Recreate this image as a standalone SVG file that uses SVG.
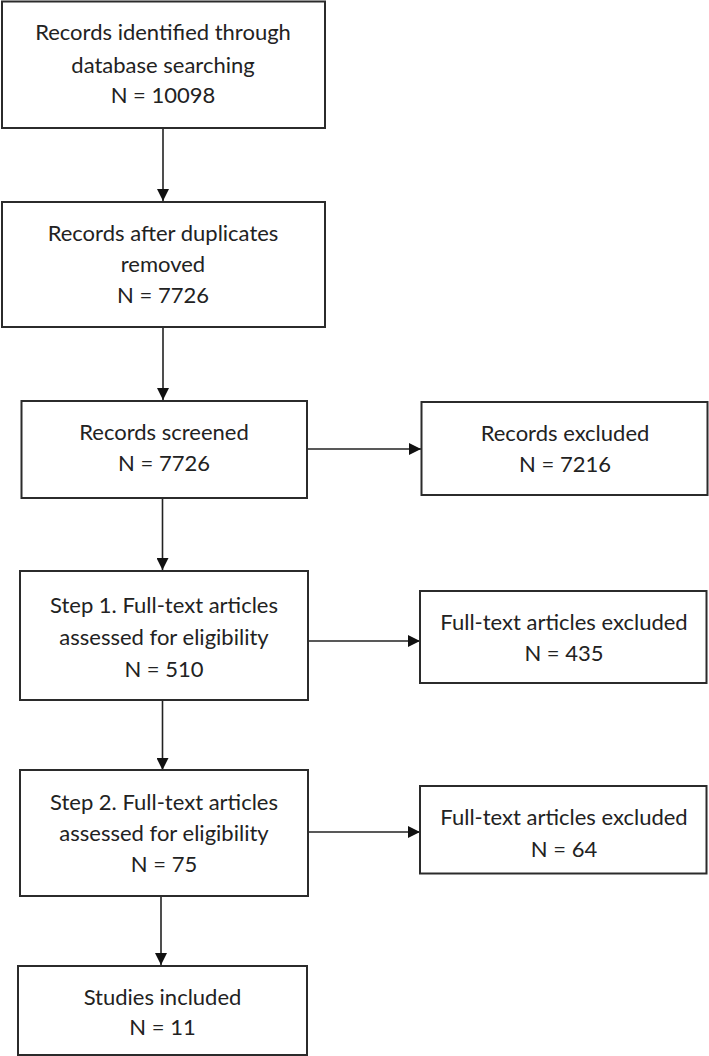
<svg xmlns="http://www.w3.org/2000/svg" width="709" height="1056" viewBox="0 0 709 1056">
<style>
.box{fill:#fff;stroke:#2b2b2b;stroke-width:2}
.t{font-family:Lato,"Liberation Sans",sans-serif;font-size:22px;fill:#222;text-anchor:middle}
.c{stroke:#222;stroke-width:1.6;fill:none;marker-end:url(#ah)}
</style>
<defs>
<marker id="ah" markerUnits="userSpaceOnUse" markerWidth="12" markerHeight="12" refX="12" refY="6" orient="auto">
<path d="M0,0 L12,6 L0,12 Z" fill="#111"/>
</marker>
</defs>
<rect width="709" height="1056" fill="#fff"/>
<g id="connectors">
<line class="c" x1="163" y1="128" x2="163" y2="201"/>
<line class="c" x1="163" y1="327" x2="163" y2="400"/>
<line class="c" x1="162.5" y1="498" x2="162.5" y2="570"/>
<line class="c" x1="307" y1="449" x2="421" y2="449"/>
<line class="c" x1="162.5" y1="700" x2="162.5" y2="770"/>
<line class="c" x1="308" y1="641" x2="420" y2="641"/>
<line class="c" x1="161" y1="896" x2="161" y2="965"/>
<line class="c" x1="308" y1="832" x2="420" y2="832"/>
</g>
<g id="n1">
<rect class="box" x="2" y="1.5" width="323" height="126.5"/>
<text class="t" x="163" y="39.5">Records identified through</text>
<text class="t" x="163" y="72.5">database searching</text>
<text class="t" x="163" y="103">N = 10098</text>
</g>
<g id="n2">
<rect class="box" x="2" y="202" width="323" height="125"/>
<text class="t" x="163" y="241">Records after duplicates</text>
<text class="t" x="163" y="272">removed</text>
<text class="t" x="163" y="303">N = 7726</text>
</g>
<g id="n3">
<rect class="box" x="21.5" y="401" width="285.5" height="97"/>
<text class="t" x="164" y="440">Records screened</text>
<text class="t" x="164" y="471">N = 7726</text>
</g>
<g id="n4">
<rect class="box" x="421.5" y="402" width="286" height="93"/>
<text class="t" x="565" y="440.5">Records excluded</text>
<text class="t" x="565" y="471.5">N = 7216</text>
</g>
<g id="n5">
<rect class="box" x="20" y="571" width="288" height="129"/>
<text class="t" x="164" y="613">Step 1. Full-text articles</text>
<text class="t" x="164" y="645">assessed for eligibility</text>
<text class="t" x="164" y="677">N = 510</text>
</g>
<g id="n6">
<rect class="box" x="420" y="591" width="286.5" height="92"/>
<text class="t" x="564" y="630">Full-text articles excluded</text>
<text class="t" x="564" y="661">N = 435</text>
</g>
<g id="n7">
<rect class="box" x="20" y="770" width="288" height="126"/>
<text class="t" x="164" y="810">Step 2. Full-text articles</text>
<text class="t" x="164" y="841">assessed for eligibility</text>
<text class="t" x="164" y="872">N = 75</text>
</g>
<g id="n8">
<rect class="box" x="420" y="786" width="286.5" height="87.5"/>
<text class="t" x="564" y="825">Full-text articles excluded</text>
<text class="t" x="564" y="857">N = 64</text>
</g>
<g id="n9">
<rect class="box" x="18" y="966" width="289" height="89"/>
<text class="t" x="162.5" y="1005">Studies included</text>
<text class="t" x="162.5" y="1035">N = 11</text>
</g>
</svg>
